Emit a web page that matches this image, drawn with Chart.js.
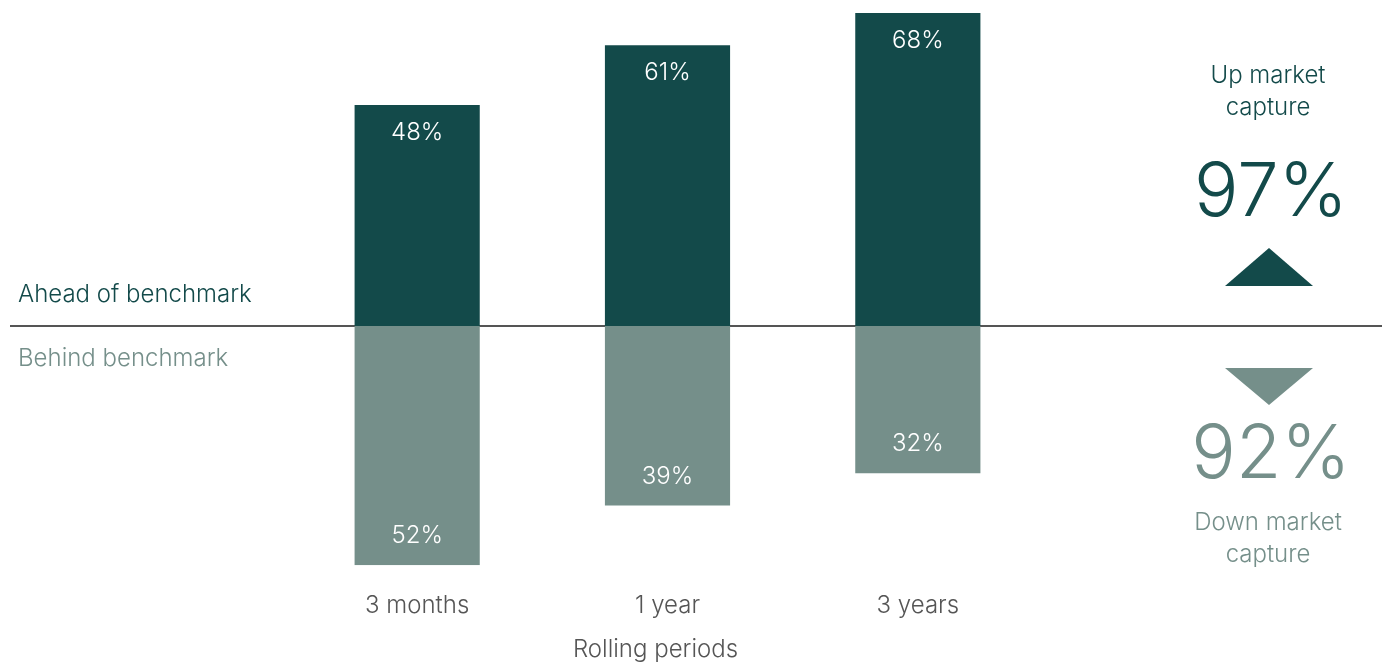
<!DOCTYPE html>
<html>
<head>
<meta charset="utf-8">
<script src="https://cdn.jsdelivr.net/npm/chart.js@4.4.1/dist/chart.umd.min.js"></script>
<style>
  html, body { margin: 0; padding: 0; background: #ffffff; }
  #wrap { width: 1390px; height: 663px; position: relative; }
</style>
</head>
<body>
<div id="wrap"><canvas id="c" width="1390" height="663"></canvas></div>
<script>
const categories = ['3 months', '1 year', '3 years'];
const aheadValues = [48, 61, 68];
const behindValues = [52, 39, 32];
const xTitle = 'Rolling periods';
const aheadLabel = 'Ahead of benchmark';
const behindLabel = 'Behind benchmark';
const upCaptureLabel = ['Up market', 'capture'];
const upCaptureValue = '97%';
const downCaptureLabel = ['Down market', 'capture'];
const downCaptureValue = '92%';

const DARK = '#134a4a';
const LIGHT = '#758f8a';
const FONT = "Inter, 'Noto Sans', sans-serif";

const overlay = {
  id: 'overlay',
  beforeDatasetsDraw(chart) {
    const ctx = chart.ctx;
    const y0 = chart.scales.y.getPixelForValue(0);
    ctx.save();
    ctx.strokeStyle = '#555555';
    ctx.lineWidth = 2;
    ctx.beginPath();
    ctx.moveTo(10, y0);
    ctx.lineTo(1382, y0);
    ctx.stroke();
    ctx.restore();
  },
  afterDatasetsDraw(chart) {
    const ctx = chart.ctx;
    const y0 = chart.scales.y.getPixelForValue(0);
    const xs = chart.scales.x;
    ctx.save();
    // bar value labels
    ctx.font = '300 24px ' + FONT;
    ctx.fillStyle = '#ffffff';
    ctx.textAlign = 'center';
    ctx.textBaseline = 'middle';
    chart.getDatasetMeta(0).data.forEach((bar, i) => {
      ctx.fillText(aheadValues[i] + '%', bar.x, bar.y + 28);
    });
    chart.getDatasetMeta(1).data.forEach((bar, i) => {
      ctx.fillText(behindValues[i] + '%', bar.x, bar.y - 29);
    });
    // x-axis title
    ctx.fillStyle = '#555555';
    ctx.font = '300 24px ' + FONT;
    ctx.fillText(xTitle, (xs.left + xs.right) / 2 - 12, 650);
    // left labels
    ctx.textAlign = 'left';
    ctx.font = '300 24px ' + FONT;
    ctx.fillStyle = DARK;
    ctx.fillText(aheadLabel, 18, y0 - 31);
    ctx.fillStyle = LIGHT;
    ctx.fillText(behindLabel, 18, y0 + 33);
    // right panel
    const cx = 1268;
    ctx.textAlign = 'center';
    ctx.fillStyle = DARK;
    ctx.font = '300 24px ' + FONT;
    ctx.fillText(upCaptureLabel[0], cx, 76);
    ctx.fillText(upCaptureLabel[1], cx, 108);
    ctx.font = '300 74px ' + FONT;
    ctx.fillText(upCaptureValue, cx + 3, 194);
    ctx.beginPath();
    ctx.moveTo(1225, 286);
    ctx.lineTo(1269, 248);
    ctx.lineTo(1313, 286);
    ctx.closePath();
    ctx.fill();
    ctx.fillStyle = LIGHT;
    ctx.beginPath();
    ctx.moveTo(1225, 368);
    ctx.lineTo(1313, 368);
    ctx.lineTo(1269, 405);
    ctx.closePath();
    ctx.fill();
    ctx.font = '300 74px ' + FONT;
    ctx.fillText(downCaptureValue, cx + 3, 456);
    ctx.font = '300 24px ' + FONT;
    ctx.fillText(downCaptureLabel[0], cx, 523);
    ctx.fillText(downCaptureLabel[1], cx, 555);
    ctx.restore();
  }
};

new Chart(document.getElementById('c'), {
  type: 'bar',
  data: {
    labels: categories,
    datasets: [
      { label: aheadLabel, data: aheadValues, backgroundColor: DARK, borderWidth: 0 },
      { label: behindLabel, data: behindValues.map(v => -v), backgroundColor: LIGHT, borderWidth: 0 }
    ]
  },
  options: {
    responsive: false,
    animation: false,
    devicePixelRatio: 1,
    datasets: { bar: { categoryPercentage: 0.5, barPercentage: 1 } },
    layout: { padding: { left: 292, right: 347, top: 13, bottom: 17 } },
    plugins: { legend: { display: false }, tooltip: { enabled: false } },
    scales: {
      x: {
        stacked: true,
        grid: { display: false, drawTicks: false },
        border: { display: false },
        ticks: { color: '#555555', font: { family: FONT, size: 24, weight: '300' }, padding: 26 }
      },
      y: {
        stacked: true,
        display: false,
        min: -52,
        max: 68
      }
    }
  },
  plugins: [overlay]
});
</script>
</body>
</html>
